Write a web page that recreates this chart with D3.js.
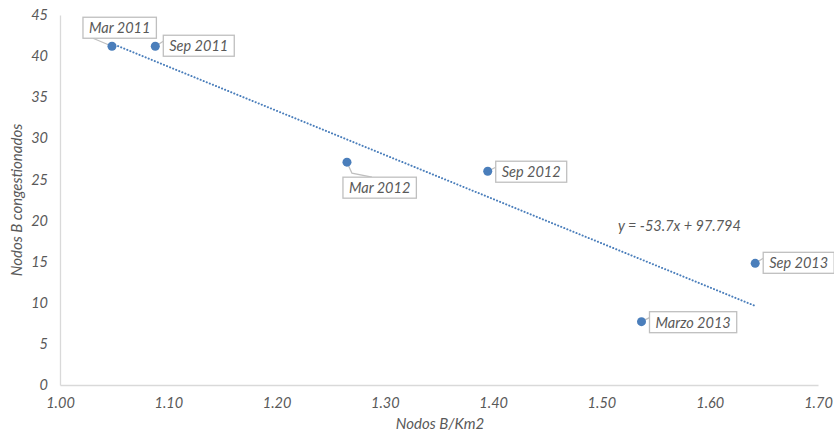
<!DOCTYPE html>
<html><head><meta charset="utf-8">
<script src="https://cdn.jsdelivr.net/npm/d3@7"></script>
<style>
body{margin:0;background:#fff;}
text{font-family:Lato,"Open Sans",sans-serif;font-style:italic;fill:#595959;}
</style></head>
<body><svg id="c" width="834" height="434"></svg>
<script>
// ---- data ----
const labels = ["Mar 2011","Sep 2011","Mar 2012","Sep 2012","Marzo 2013","Sep 2013"];
const xValues = [1.048, 1.088, 1.265, 1.395, 1.537, 1.642];
const yValues = [41.2, 41.2, 27.1, 26.0, 7.7, 14.8];
const xTicks = [1.0,1.1,1.2,1.3,1.4,1.5,1.6,1.7];
const yTicks = [0,5,10,15,20,25,30,35,40,45];
const slope = -53.7, intercept = 97.794;
const equationText = "y = -53.7x + 97.794";
const xTitle = "Nodos B/Km2", yTitle = "Nodos B congestionados";

// ---- layout (callout offsets relative to each point) ----
const callouts = [
  {dx:-29, dy:-29, anchor:"bottom"},
  {dx:8, dy:-11, anchor:"left"},
  {dx:-4, dy:15, anchor:"top"},
  {dx:8, dy:-10, anchor:"left"},
  {dx:8, dy:-10, anchor:"left"},
  {dx:8, dy:-11, anchor:"left"}
];

const svg = d3.select("#c");
const x = d3.scaleLinear().domain([1.0,1.7]).range([60,818]);
const y = d3.scaleLinear().domain([0,45]).range([385,15]);
const grey = "#595959";
const fs = 14.5;

// axes
const xAxis = svg.append("g").attr("transform","translate(0,385)")
  .call(d3.axisBottom(x).tickValues(xTicks).tickFormat(d3.format(".2f")).tickSize(0).tickPadding(13));
xAxis.select(".domain").attr("stroke","#d9d9d9").attr("stroke-width",1.3);
xAxis.selectAll("text").attr("font-size",fs).attr("fill",grey).style("font-family","Lato").style("font-style","italic");

const yAxis = svg.append("g").attr("transform","translate(60,0)")
  .call(d3.axisLeft(y).tickValues(yTicks).tickSize(0).tickPadding(12));
yAxis.select(".domain").attr("stroke","#d9d9d9").attr("stroke-width",1.3);
yAxis.selectAll("text").attr("font-size",fs).attr("fill",grey).style("font-family","Lato").style("font-style","italic");

// titles
svg.append("text").attr("x",440).attr("y",429).attr("text-anchor","middle").attr("font-size",15).text(xTitle);
svg.append("text").attr("transform","translate(22,200) rotate(-90)").attr("text-anchor","middle").attr("font-size",15).text(yTitle);

// trendline
const xmin = d3.min(xValues), xmax = d3.max(xValues);
svg.append("line")
  .attr("x1",x(xmin)).attr("y1",y(slope*xmin+intercept))
  .attr("x2",x(xmax)).attr("y2",y(slope*xmax+intercept))
  .attr("stroke","#4a7ebb").attr("stroke-width",2).attr("stroke-dasharray","0.1 3.2").attr("stroke-linecap","round");

svg.append("text").attr("x",618).attr("y",231).attr("font-size",fs).text(equationText);

// callouts
const data = labels.map((l,i)=>({label:l,x:xValues[i],y:yValues[i],c:callouts[i]}));
data.forEach(d=>{
  const px = x(d.x), py = y(d.y);
  const bx = px + d.c.dx, by = py + d.c.dy;
  const g = svg.append("g");
  const t = g.append("text").attr("font-size",fs).attr("x",bx+6).attr("y",by+16).text(d.label);
  const w = t.node().getComputedTextLength() + 12, h = 21;
  let pts;
  if (d.c.anchor==="left") pts = [[px,py],[bx,by+6]];
  else if (d.c.anchor==="bottom") pts = [[px,py],[bx+10,by+h]];
  else pts = [[px,py],[px+5,py+11],[bx+29,by]];
  g.insert("path","text").attr("d",d3.line()(pts)).attr("fill","none").attr("stroke","#bfbfbf").attr("stroke-width",1.3);
  g.insert("rect","text").attr("x",bx).attr("y",by).attr("width",w).attr("height",h)
    .attr("fill","#fff").attr("stroke","#bfbfbf").attr("stroke-width",1.3);
});

// points
svg.append("g").selectAll("circle").data(data).join("circle")
  .attr("cx",d=>x(d.x)).attr("cy",d=>y(d.y)).attr("r",4.5).attr("fill","#4a7ebb");
</script></body></html>
